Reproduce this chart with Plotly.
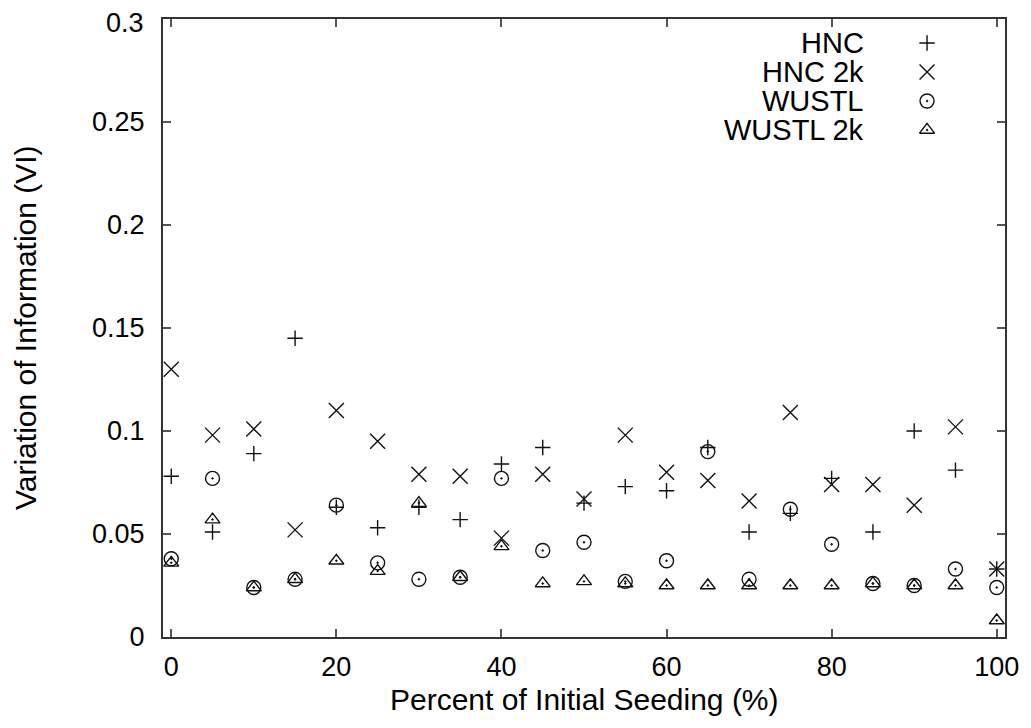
import plotly.graph_objects as go

# Data
seeding = [0, 5, 10, 15, 20, 25, 30, 35, 40, 45, 50, 55, 60, 65, 70, 75, 80, 85, 90, 95, 100]
hnc = [0.078, 0.051, 0.089, 0.145, 0.063, 0.053, 0.063, 0.057, 0.084, 0.092, 0.065,
       0.073, 0.071, 0.092, 0.051, 0.060, 0.077, 0.051, 0.100, 0.081, 0.033]
hnc_2k = [0.130, 0.098, 0.101, 0.052, 0.110, 0.095, 0.079, 0.078, 0.048, 0.079, 0.067,
          0.098, 0.080, 0.076, 0.066, 0.109, 0.074, 0.074, 0.064, 0.102, 0.033]
wustl = [0.038, 0.077, 0.024, 0.028, 0.064, 0.036, 0.028, 0.029, 0.077, 0.042, 0.046,
         0.027, 0.037, 0.090, 0.028, 0.062, 0.045, 0.026, 0.025, 0.033, 0.024]
wustl_2k = [0.036, 0.057, 0.024, 0.028, 0.037, 0.032, 0.065, 0.029, 0.044, 0.026, 0.027,
            0.026, 0.025, 0.025, 0.025, 0.025, 0.025, 0.026, 0.025, 0.025, 0.008]

series_names = ["HNC", "HNC 2k", "WUSTL", "WUSTL 2k"]
series_values = [hnc, hnc_2k, wustl, wustl_2k]
symbols = ["cross-thin-open", "x-thin-open", "circle-open-dot", "triangle-up-open-dot"]
sizes = [11, 15, 14, 13]

x_ticks = [0, 20, 40, 60, 80, 100]
y_ticks = [0, 0.05, 0.1, 0.15, 0.2, 0.25, 0.3]
y_tick_text = ["0", "0.05", "0.1", "0.15", "0.2", "0.25", "0.3"]

x_title = "Percent of Initial Seeding (%)"
y_title = "Variation of Information (VI)"

FONT = "Liberation Sans, Arial, Helvetica, sans-serif"
INK = "#111"

fig = go.Figure()
for name, vals, sym, sz in zip(series_names, series_values, symbols, sizes):
    fig.add_trace(go.Scatter(
        x=seeding, y=vals, mode="markers", name=name, showlegend=False,
        cliponaxis=False,
        marker=dict(symbol=sym, size=sz, color=INK,
                    line=dict(color=INK, width=1.4)),
    ))

# Legend keys (gnuplot style: text right-aligned, key symbol to the right)
legend_rows = [0, 1, 2, 3]
for row, name, sym, sz in zip(legend_rows, series_names, symbols, sizes):
    fig.add_trace(go.Scatter(
        x=[1], y=[row], mode="markers", showlegend=False,
        xaxis="x2", yaxis="y2", hoverinfo="skip", cliponaxis=False,
        marker=dict(symbol=sym, size=sz, color=INK,
                    line=dict(color=INK, width=1.4)),
    ))
    fig.add_annotation(x=0, y=row, xref="x2", yref="y2", text=name,
                       showarrow=False, xanchor="right", yanchor="middle",
                       font=dict(family=FONT, size=29, color="#000"))

# Axis titles
fig.add_annotation(x=0.5, y=0, xref="paper", yref="paper", text=x_title,
                   showarrow=False, xanchor="center", yanchor="middle", yshift=-62,
                   font=dict(family=FONT, size=30, color="#000"))
fig.add_annotation(x=0, y=0.5, xref="paper", yref="paper", text=y_title,
                   showarrow=False, xanchor="center", yanchor="middle", xshift=-138,
                   textangle=-90, font=dict(family=FONT, size=30, color="#000"))

# The top y tick label sits at the very top edge of the figure, where Plotly would
# drop it; it is drawn as an annotation at the same data position instead.
top_label_index = len(y_ticks) - 1
axis_y_text = [t if i != top_label_index else "" for i, t in enumerate(y_tick_text)]
fig.add_annotation(x=0, y=y_ticks[top_label_index], xref="paper", yref="y",
                   text=y_tick_text[top_label_index], showarrow=False,
                   xanchor="right", yanchor="middle", xshift=-17, yshift=-4,
                   font=dict(family=FONT, size=27, color="#000"))

axis_common = dict(showline=True, linecolor="#333", linewidth=2, mirror="ticks",
                   ticks="inside", ticklen=8, tickwidth=1.5, tickcolor="#555",
                   showgrid=False, zeroline=False, automargin=False,
                   tickfont=dict(family=FONT, size=27, color="#000"))

# The page body adds an 8px offset; the figure size and margins compensate for it.
fig.update_layout(
    width=1015, height=712,
    margin=dict(l=155, r=18, t=11, b=83),
    plot_bgcolor="white", paper_bgcolor="white",
    xaxis=dict(range=[-1, 101], tickvals=x_ticks, ticktext=[str(v) for v in x_ticks],
               ticklabelstandoff=5, **axis_common),
    yaxis=dict(range=[0, 0.3], tickvals=y_ticks, ticktext=axis_y_text,
               ticklabelstandoff=11, **axis_common),
    xaxis2=dict(domain=[0.8349, 0.9074], range=[0, 1], visible=False, anchor="y2"),
    yaxis2=dict(domain=[0.8205, 0.9612], range=[3, 0], visible=False, anchor="x2"),
)

fig.write_html("out.html")
